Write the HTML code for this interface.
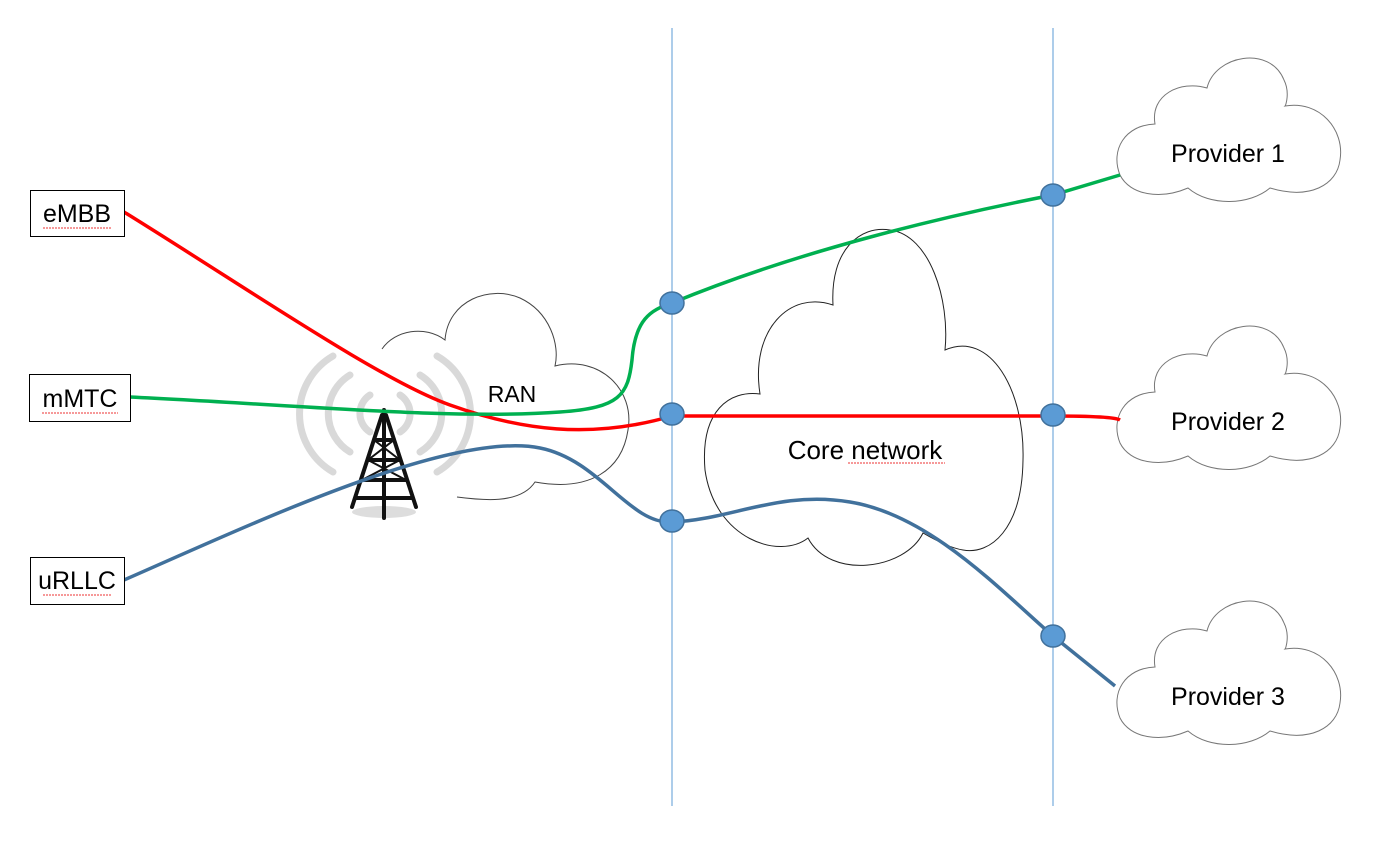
<!DOCTYPE html>
<html><head><meta charset="utf-8"><style>
html,body{margin:0;padding:0;background:#fff;}
svg{display:block;font-family:"Liberation Sans",Calibri,sans-serif;}
</style></head><body>
<svg width="1383" height="841" viewBox="0 0 1383 841" xmlns="http://www.w3.org/2000/svg">
<rect width="1383" height="841" fill="#fff"/>
<line x1="672" y1="28" x2="672" y2="806" stroke="#5b9bd5" stroke-width="1"/>
<line x1="1053" y1="28" x2="1053" y2="806" stroke="#5b9bd5" stroke-width="1"/>
<g fill="none" stroke="#d9d9d9" stroke-width="7" stroke-linecap="round">
<path d="M370,395 A22,22 0 0 0 370,432"/>
<path d="M400,395 A22,22 0 0 1 400,432"/>
<path d="M350,375 A45,45 0 0 0 350,452"/>
<path d="M420,375 A45,45 0 0 1 420,452"/>
<path d="M333,356 A67,67 0 0 0 333,472"/>
<path d="M437,356 A67,67 0 0 1 437,472"/>
</g>
<ellipse cx="384" cy="512" rx="32" ry="6" fill="#ddd"/>
<g stroke="#111" stroke-width="4" fill="none" stroke-linecap="round">
<line x1="384" y1="410" x2="384" y2="518"/>
<line x1="382" y1="415" x2="352" y2="507"/>
<line x1="386" y1="415" x2="416" y2="507"/>
<line x1="374" y1="440" x2="394" y2="440"/>
<line x1="368" y1="460" x2="400" y2="460"/>
<line x1="362" y1="480" x2="406" y2="480"/>
<line x1="356" y1="498" x2="412" y2="498"/>
<line x1="374" y1="440" x2="400" y2="460" stroke-width="2"/>
<line x1="394" y1="440" x2="368" y2="460" stroke-width="2"/>
<line x1="368" y1="460" x2="406" y2="480" stroke-width="2"/>
<line x1="400" y1="460" x2="362" y2="480" stroke-width="2"/>
</g>
<path d="M382,349 C395,330 425,325 445,340 C448,300 490,285 520,298 C550,312 560,345 555,366 C600,355 635,390 628,430 C622,470 590,492 535,482 C520,505 480,500 457,497" fill="none" stroke="#444" stroke-width="1"/>
<text x="512" y="402" font-size="23" text-anchor="middle" fill="#000">RAN</text>
<path d="M760,394 C750,330 790,290 833,305 C830,250 860,225 890,230 C930,235 950,300 945,350 C990,330 1025,390 1023,460 C1022,530 990,555 963,550 C950,548 935,540 923,533 C905,570 830,580 808,538 C780,560 715,540 705,470 C700,410 730,390 760,394 Z" fill="none" stroke="#222" stroke-width="1"/>
<text x="865" y="459" font-size="26" text-anchor="middle" fill="#000">Core network</text>
<g fill="none" stroke="#777" stroke-width="1">
<path d="M1120,175 C1110,150 1125,125 1155,124 C1150,95 1180,80 1207,88 C1215,55 1270,45 1284,80 C1290,92 1286,105 1285,106 C1320,100 1345,130 1340,160 C1337,185 1310,200 1270,188 C1250,205 1210,207 1188,188 C1160,200 1130,195 1120,175 Z"/>
<path d="M1120,175 C1110,150 1125,125 1155,124 C1150,95 1180,80 1207,88 C1215,55 1270,45 1284,80 C1290,92 1286,105 1285,106 C1320,100 1345,130 1340,160 C1337,185 1310,200 1270,188 C1250,205 1210,207 1188,188 C1160,200 1130,195 1120,175 Z" transform="translate(0,268)"/>
<path d="M1120,175 C1110,150 1125,125 1155,124 C1150,95 1180,80 1207,88 C1215,55 1270,45 1284,80 C1290,92 1286,105 1285,106 C1320,100 1345,130 1340,160 C1337,185 1310,200 1270,188 C1250,205 1210,207 1188,188 C1160,200 1130,195 1120,175 Z" transform="translate(0,543)"/>
</g>
<g font-size="25" text-anchor="middle" fill="#000">
<text x="1228" y="162">Provider 1</text>
<text x="1228" y="430">Provider 2</text>
<text x="1228" y="705">Provider 3</text>
</g>
<g fill="none" stroke-width="3.5">
<path d="M124,212 C250,290 380,380 450,405 C520,430 590,440 672,416 L1053,416 C1090,416 1115,417 1120,420" stroke="#ff0000"/>
<path d="M130,397 C300,405 450,420 560,412 C620,408 628,395 632,360 C635,320 650,310 672,303 C800,250 950,215 1053,195 L1120,175" stroke="#00b050"/>
<path d="M124,580 C250,525 450,430 540,448 C600,460 630,525 672,522 C730,520 780,490 850,502 C930,515 1000,590 1053,636 L1115,686" stroke="#41719c"/>
</g>
<g fill="#5b9bd5" stroke="#41719c" stroke-width="1.5">
<ellipse cx="672" cy="303" rx="12" ry="11"/>
<ellipse cx="672" cy="414" rx="12" ry="11"/>
<ellipse cx="672" cy="521" rx="12" ry="11"/>
<ellipse cx="1053" cy="195" rx="12" ry="11"/>
<ellipse cx="1053" cy="415" rx="12" ry="11"/>
<ellipse cx="1053" cy="636" rx="12" ry="11"/>
</g>
<g fill="#fff" stroke="#000" stroke-width="1">
<rect x="30.5" y="190.5" width="94" height="46"/>
<rect x="29.5" y="374.5" width="101" height="47"/>
<rect x="30.5" y="557.5" width="94" height="47"/>
</g>
<g font-size="25" text-anchor="middle" fill="#000">
<text x="77" y="222">eMBB</text>
<text x="80" y="407">mMTC</text>
<text x="77" y="589">uRLLC</text>
</g>
<g stroke="#e33" stroke-width="1" fill="none" stroke-dasharray="2,1">
<line x1="43" y1="228" x2="112" y2="228"/>
<line x1="42" y1="413" x2="118" y2="413"/>
<line x1="43" y1="595" x2="112" y2="595"/>
<line x1="848" y1="463" x2="945" y2="463"/>
</g>
</svg>
</body></html>
